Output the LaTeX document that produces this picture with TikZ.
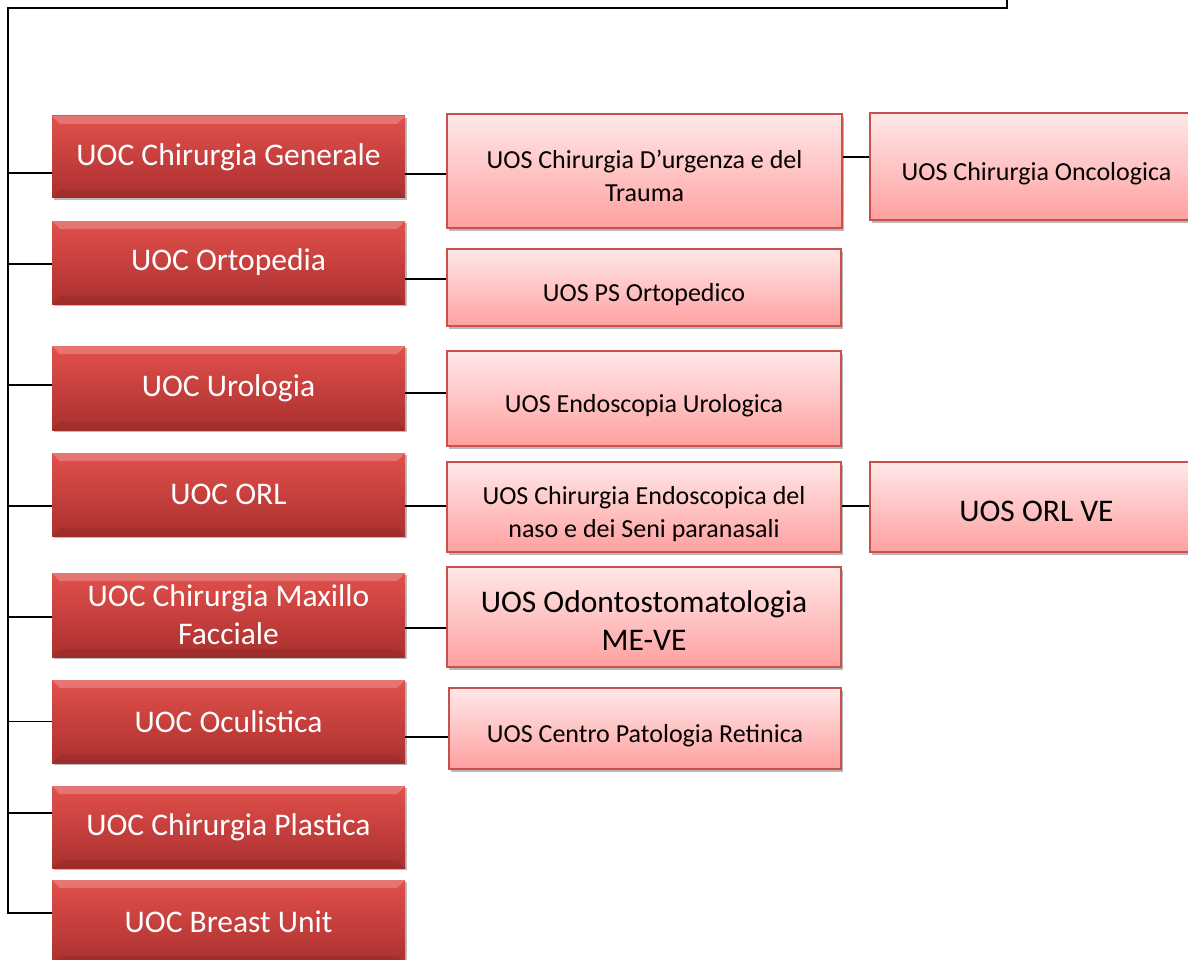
\documentclass[tikz,border=0pt]{standalone}
\usepackage{fontspec}
\setmainfont{Carlito}
\usetikzlibrary{shadows}

\definecolor{uoctop}{RGB}{226,80,76}
\definecolor{uocbot}{RGB}{170,48,46}
\definecolor{uostop}{RGB}{255,232,232}
\definecolor{uosbot}{RGB}{255,160,160}
\definecolor{uosline}{RGB}{200,80,77}

\begin{document}
\begin{tikzpicture}[x=1pt,y=-1pt]
	\tikzset{
		uocbox/.style={rectangle,minimum width=353,inner sep=4,align=center,
			text=white,font=\bigfont,top color=uoctop,bottom color=uocbot,
			drop shadow={shadow xshift=2pt,shadow yshift=-2pt,fill=black!45,opacity=.6},
			path picture={
				\fill[white,opacity=.22] (path picture bounding box.north west)
				-- (path picture bounding box.north east)
				-- ([xshift=-8pt,yshift=-8pt]path picture bounding box.north east)
				-- ([xshift=8pt,yshift=-8pt]path picture bounding box.north west) -- cycle;
				\fill[black,opacity=.07] (path picture bounding box.south west)
				-- (path picture bounding box.south east)
				-- ([xshift=-8pt,yshift=8pt]path picture bounding box.south east)
				-- ([xshift=8pt,yshift=8pt]path picture bounding box.south west) -- cycle;
			}},
		uosbox/.style={rectangle,inner sep=4,text=black,
			draw=uosline,line width=1.4pt,top color=uostop,bottom color=uosbot,
			drop shadow={shadow xshift=2pt,shadow yshift=-3pt,fill=black!40,opacity=.7}},
		link/.style={black,line width=1.8pt}
	}
	\def\bigfont{\fontsize{31.5}{38}\selectfont}
	\def\smallfont{\fontsize{26}{33}\selectfont}
	% text of the pink boxes sits a little low
	\def\lowtext#1{\raisebox{-7pt}[\height][\depth]{\begin{tabular}{@{}c@{}}#1\end{tabular}}}
	\useasboundingbox (0,0) rectangle (1188,960);
	\clip (0,0) rectangle (1188,960);
	% trunk from the level above
	\coordinate (top) at (1007,0);
	\coordinate (topR) at (1007,8);
	\coordinate (topL) at (8,8);
	\coordinate (trunkEnd) at (8,914);
	\draw[link] (top) -- (topR) -- (topL) -- (trunkEnd);
	% UOC column
	\node[uocbox,minimum height=82] (gen) at (228.5,157) {UOC Chirurgia Generale};
	\node[uocbox,minimum height=83] (orto) at (228.5,262.5) {UOC Ortopedia};
	\node[uocbox,minimum height=84] (uro) at (228.5,388) {UOC Urologia};
	\node[uocbox,minimum height=83] (orl) at (228.5,494.5) {UOC ORL};
	\node[uocbox,minimum height=84] (maxf) at (228.5,615) {UOC Chirurgia Maxillo\\Facciale};
	\node[uocbox,minimum height=83] (ocul) at (228.5,721.5) {UOC Oculistica};
	\node[uocbox,minimum height=82] (plast) at (228.5,827) {UOC Chirurgia Plastica};
	\node[uocbox,minimum height=84] (breast) at (228.5,922) {UOC Breast Unit};
	% UOS column
	\node[uosbox,minimum width=395,minimum height=114,font=\smallfont] (trauma) at (644.5,171)
		{\lowtext{UOS Chirurgia D’urgenza e del\\Trauma}};
	\node[uosbox,minimum width=394,minimum height=77,font=\smallfont] (ps) at (644,287.5)
		{\lowtext{UOS PS Ortopedico}};
	\node[uosbox,minimum width=394,minimum height=95,font=\smallfont] (endo) at (644,398.5)
		{\lowtext{UOS Endoscopia Urologica}};
	\node[uosbox,minimum width=394,minimum height=90,font=\smallfont] (naso) at (644,507)
		{\lowtext{UOS Chirurgia Endoscopica del\\naso e dei Seni paranasali}};
	\node[uosbox,minimum width=394,minimum height=100,font=\bigfont] (odonto) at (644,617)
		{\lowtext{UOS Odontostomatologia\\ME-VE}};
	\node[uosbox,minimum width=392,minimum height=81,font=\smallfont] (retina) at (645,728.5)
		{\lowtext{UOS Centro Patologia Retinica}};
	% third column
	\node[uosbox,minimum width=333,minimum height=107,font=\smallfont] (onco) at (1036.5,166.5)
		{\lowtext{UOS Chirurgia Oncologica}};
	\node[uosbox,minimum width=333,minimum height=90,font=\bigfont] (orlve) at (1036.5,507)
		{\lowtext{UOS ORL VE}};
	% connectors
	\foreach \n/\dy in {gen/-16,orto/-1.5,uro/3,orl/-11.5,maxf/-2,ocul/0,plast/14,breast/9}{
		\coordinate (p) at ([yshift=\dy]\n.west);
		\draw[link] (p) -- (p -| topL);
	}
	\foreach \a/\b/\dy in {gen/trauma/-3,orto/ps/8.5,uro/endo/5.5,orl/naso/1,maxf/odonto/-11,ocul/retina/-8.5,trauma/onco/9.5,naso/orlve/1}{
		\coordinate (q) at ([yshift=\dy]\b.west);
		\draw[link] (q) -- (q -| \a.east);
	}
\end{tikzpicture}
\end{document}
